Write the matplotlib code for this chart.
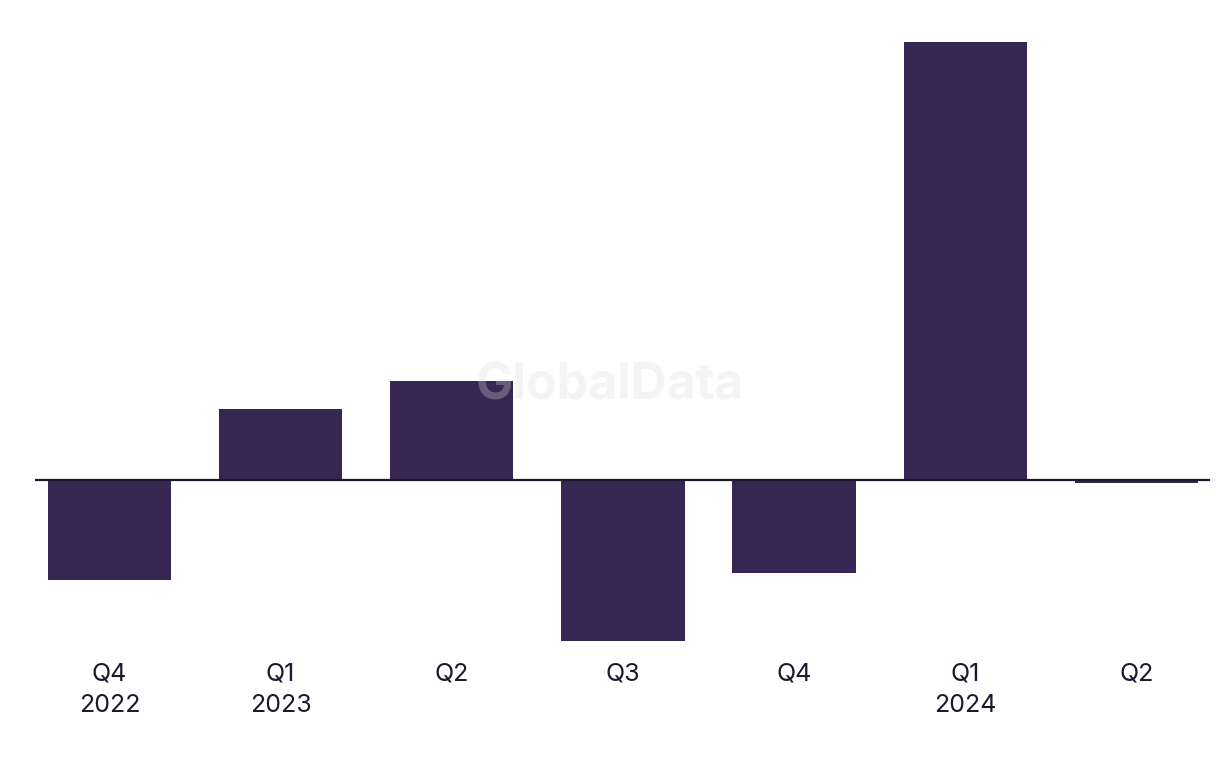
import numpy as np
import matplotlib.pyplot as plt

plt.rcParams['font.family'] = ['Inter', 'DejaVu Sans']

# Données (unités arbitraires)
quarters = ["Q4\n2022", "Q1\n2023", "Q2", "Q3", "Q4", "Q1\n2024", "Q2"]
values = [-9.95, 7.1, 9.9, -16.1, -9.3, 43.8, -0.25]

bar_color = "#372552"
text_color = "#1a1a2e"

fig = plt.figure(figsize=(12.2, 7.68), dpi=100)
ax = fig.add_axes([35 / 1220, (768 - 650) / 768, 1175 / 1220, 620 / 768])

x = np.arange(len(quarters))
ax.bar(x, values, width=0.72, color=bar_color, zorder=2)
ax.axhline(0, color=text_color, linewidth=1.6, zorder=3)

ax.set_xlim(-0.435, 6.43)
ax.set_ylim(-17, 45)
ax.set_xticks(x)
ax.set_xticklabels(quarters, fontsize=18, color=text_color, linespacing=1.45)
ax.tick_params(axis="x", length=0, pad=9)
ax.set_yticks([])
for s in ax.spines.values():
    s.set_visible(False)

# Filigrane
fig.text(0.5, 1 - 386 / 768, "GlobalData", ha="center", va="center",
         fontsize=36, fontweight="bold", color="#dddddd", alpha=0.3, zorder=5)

fig.savefig("out.png", dpi=100, facecolor="white")
